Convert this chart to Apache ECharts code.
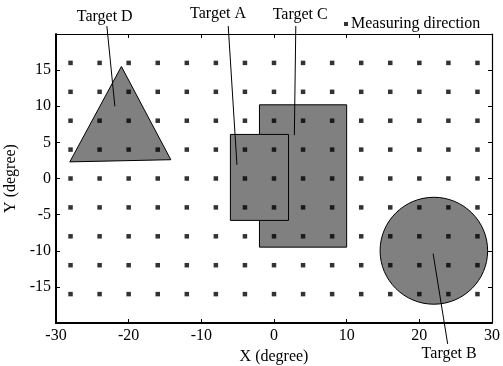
<!DOCTYPE html>
<html>
<head>
<meta charset="utf-8">
<script src="https://cdn.jsdelivr.net/npm/echarts@6/dist/echarts.min.js"></script>
<style>html,body{margin:0;padding:0;background:#fff;}#c{width:503px;height:366px;}</style>
</head>
<body>
<div id="c"></div>
<script>
// Measuring-direction grid
const dotX = [-28, -24, -20, -16, -12, -8, -4, 0, 4, 8, 12, 16, 20, 24, 28];
const dotY = [-16, -12, -8, -4, 0, 4, 8, 12, 16];
// Axis ticks
const xTicks = [-30, -20, -10, 0, 10, 20, 30];
const yTicks = [-15, -10, -5, 0, 5, 10, 15];
// Targets (degrees)
const rectA = [-6, -5.8, 2, 6.1];        // xmin, ymin, xmax, ymax
const rectC = [-2, -9.5, 10, 10.2];      // xmin, ymin, xmax, ymax
const circleB = [22, -10, 7.4];          // cx, cy, r
const triangleD = [[-28.1, 2.3], [-21, 15.5], [-14.2, 2.6]];
// Target labels: name, label x, label y, leader start x, y, leader end x, y
const targetNames = ['Target D', 'Target A', 'Target C', 'Target B'];
const labelX = [-23.3, -7.7, 3.6, 24.1];
const labelY = [22.4, 22.8, 22.6, -24.2];
const leadStartX = [-23.0, -6.3, 3.0, 23.9];
const leadStartY = [21.1, 21.1, 21.1, -22.9];
const leadEndX = [-21.9, -5.1, 2.8, 21.9];
const leadEndY = [10.0, 1.9, 6.0, -10.4];

const FONT = 'Liberation Serif';
const FS = 16;
const dots = [];
dotY.forEach(y => dotX.forEach(x => dots.push([x, y])));

const chart = echarts.init(document.getElementById('c'));
const axisLabelStyle = { fontFamily: FONT, fontSize: FS, color: '#000' };

function shapeItem(params, api) {
  const i = params.dataIndex;
  const style = { fill: '#808080', stroke: '#000', lineWidth: 1 };
  if (i === 0) { // rect C
    const p1 = api.coord([rectC[0], rectC[3]]), p2 = api.coord([rectC[2], rectC[1]]);
    return { type: 'rect', shape: { x: p1[0], y: p1[1], width: p2[0] - p1[0], height: p2[1] - p1[1] }, style };
  }
  if (i === 1) { // rect A
    const p1 = api.coord([rectA[0], rectA[3]]), p2 = api.coord([rectA[2], rectA[1]]);
    return { type: 'rect', shape: { x: p1[0], y: p1[1], width: p2[0] - p1[0], height: p2[1] - p1[1] }, style };
  }
  if (i === 2) { // circle B
    const c = api.coord([circleB[0], circleB[1]]);
    const e = api.coord([circleB[0] + circleB[2], circleB[1] + circleB[2]]);
    return { type: 'ellipse', shape: { cx: c[0], cy: c[1], rx: Math.abs(e[0] - c[0]), ry: Math.abs(e[1] - c[1]) }, style };
  }
  return { type: 'polygon', shape: { points: triangleD.map(p => api.coord(p)) }, style };
}

function labelItem(params, api) {
  const i = params.dataIndex;
  const t = api.coord([labelX[i], labelY[i]]);
  const s = api.coord([leadStartX[i], leadStartY[i]]);
  const e = api.coord([leadEndX[i], leadEndY[i]]);
  return {
    type: 'group',
    children: [
      { type: 'line', shape: { x1: s[0], y1: s[1], x2: e[0], y2: e[1] }, style: { stroke: '#000', lineWidth: 1 } },
      { type: 'text', style: { x: t[0], y: t[1], text: targetNames[i], fill: '#000', font: FS + 'px "' + FONT + '"', align: 'center', verticalAlign: 'middle' } }
    ]
  };
}

chart.setOption({
  animation: false,
  backgroundColor: '#fff',
  textStyle: { fontFamily: FONT },
  grid: { left: 56, right: 11, top: 34, bottom: 43, containLabel: false, outerBoundsMode: 'none' },
  legend: {
    data: [{ name: 'Measuring direction', icon: 'rect' }],
    left: 339, top: 11, itemWidth: 4, itemHeight: 4, itemGap: 0,
    textStyle: { fontFamily: FONT, fontSize: FS, color: '#000', padding: [0, 0, 0, -2] }
  },
  xAxis: [
    {
      type: 'value', min: -30, max: 30, interval: 10, position: 'bottom',
      name: 'X (degree)', nameLocation: 'middle', nameGap: 16,
      nameTextStyle: axisLabelStyle,
      axisLine: { onZero: false, lineStyle: { color: '#000', width: 2 } },
      axisTick: { inside: true, length: 4, lineStyle: { color: '#000' } },
      axisLabel: Object.assign({ margin: 5, formatter: v => xTicks.includes(v) ? String(v) : '' }, axisLabelStyle),
      splitLine: { show: false }
    },
    {
      type: 'value', min: -30, max: 30, interval: 10, position: 'top',
      axisLine: { onZero: false, lineStyle: { color: '#000', width: 1.2 } },
      axisTick: { inside: true, length: 4, lineStyle: { color: '#000' } },
      axisLabel: { show: false }, splitLine: { show: false }
    }
  ],
  yAxis: [
    {
      type: 'value', min: -20, max: 20, interval: 5, position: 'left',
      name: 'Y (degree)', nameLocation: 'middle', nameGap: 32,
      nameTextStyle: axisLabelStyle,
      axisLine: { show: true, onZero: false, lineStyle: { color: '#000', width: 2 } },
      axisTick: { show: true, inside: true, length: 4, lineStyle: { color: '#000' } },
      axisLabel: Object.assign({ margin: 5, formatter: v => yTicks.includes(v) ? String(v) : '' }, axisLabelStyle),
      splitLine: { show: false }
    },
    {
      type: 'value', min: -20, max: 20, interval: 5, position: 'right',
      axisLine: { show: true, onZero: false, lineStyle: { color: '#000', width: 1.2 } },
      axisTick: { show: true, inside: true, length: 4, lineStyle: { color: '#000' } },
      axisLabel: { show: false }, splitLine: { show: false }
    }
  ],
  series: [
    {
      type: 'custom', name: 'targets', renderItem: shapeItem, clip: false,
      data: [0, 1, 2, 3], z: 1, silent: true
    },
    {
      type: 'custom', name: 'labels', renderItem: labelItem, clip: false,
      data: targetNames.map((n, i) => i), z: 3, silent: true
    },
    {
      type: 'scatter', name: 'Measuring direction', data: dots,
      symbol: 'rect', symbolSize: 4.5, itemStyle: { color: '#000' }, z: 4
    }
  ]
});
</script>
</body>
</html>
